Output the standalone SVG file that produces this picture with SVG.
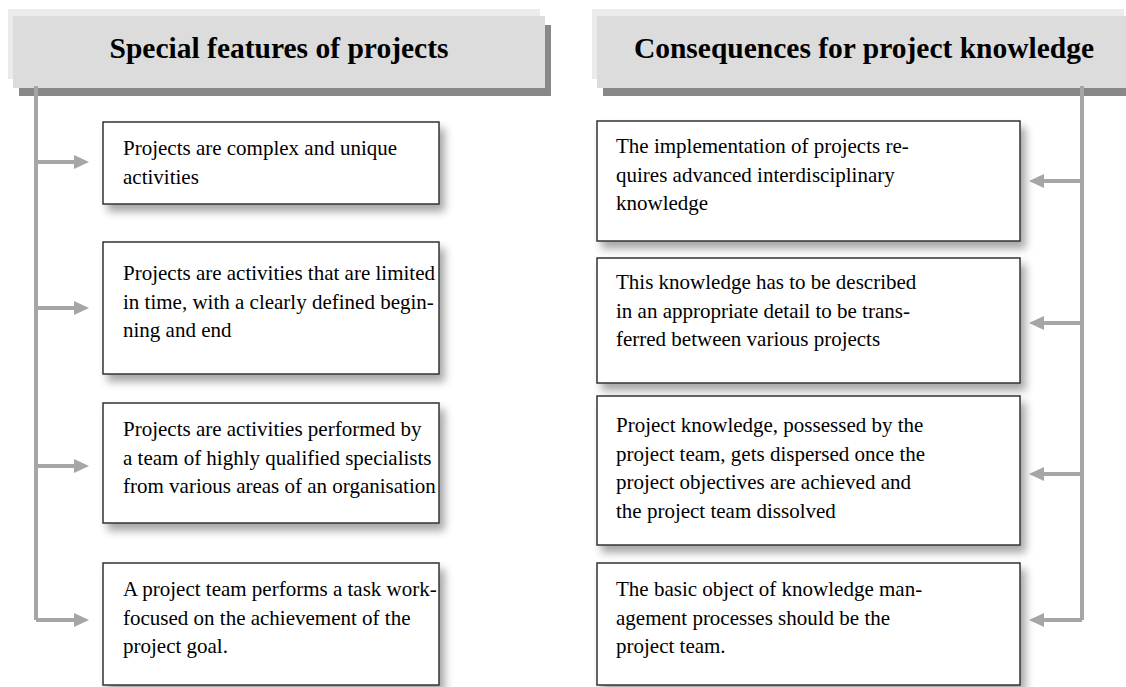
<svg xmlns="http://www.w3.org/2000/svg" width="1126" height="687" viewBox="0 0 1126 687">
<style>
.hb{fill:#ebebeb}
.hm{fill:#dcdcdc}
.hs{fill:#888888}
.ht{font-family:"Liberation Serif",serif;font-weight:bold;font-size:29.5px;fill:#000;text-anchor:middle}
.box{fill:#fff;stroke:#333;stroke-width:1.5;filter:url(#sh)}
.t{font-family:"Liberation Serif",serif;font-size:21px;fill:#000}
.c{stroke:#a6a6a6;stroke-width:4;fill:none}
.ah{fill:#a6a6a6}
</style>
<defs>
<filter id="sh" x="-10%" y="-10%" width="130%" height="140%">
<feDropShadow dx="5" dy="7" stdDeviation="4" flood-color="#000" flood-opacity="0.35"/>
</filter>
</defs>
<rect width="1126" height="687" fill="#fff"/>
<g id="header-left">
<rect class="hb" x="8" y="9" width="532" height="70"/>
<rect class="hs" x="19" y="25" width="532" height="71"/>
<rect class="hm" x="13" y="16" width="532" height="72"/>
<text class="ht" x="279" y="58">Special features of projects</text>
</g>
<g id="header-right">
<rect class="hb" x="592" y="9" width="532" height="70"/>
<rect class="hs" x="603" y="25" width="532" height="71"/>
<rect class="hm" x="597" y="16" width="532" height="72"/>
<text class="ht" x="864" y="58">Consequences for project knowledge</text>
</g>
<g id="connectors">
<path class="c" d="M36 86 V620 M36 162 H75 M36 308 H75 M36 466 H75 M36 620 H75"/>
<polygon class="ah" points="74,155 89,162 74,169"/>
<polygon class="ah" points="74,301 89,308 74,315"/>
<polygon class="ah" points="74,459 89,466 74,473"/>
<polygon class="ah" points="74,613 89,620 74,627"/>
<path class="c" d="M1082 86 V620 M1082 181 H1043 M1082 323 H1043 M1082 474 H1043 M1082 620 H1043"/>
<polygon class="ah" points="1044,174 1029,181 1044,188"/>
<polygon class="ah" points="1044,316 1029,323 1044,330"/>
<polygon class="ah" points="1044,467 1029,474 1044,481"/>
<polygon class="ah" points="1044,613 1029,620 1044,627"/>
</g>
<g id="left-1">
<rect class="box" x="103" y="122" width="336" height="82"/>
<text class="t" x="123" y="155"><tspan x="123">Projects are complex and unique</tspan><tspan x="123" dy="28.5">activities</tspan></text>
</g>
<g id="left-2">
<rect class="box" x="103" y="242" width="336" height="132"/>
<text class="t" x="123" y="280"><tspan x="123">Projects are activities that are limited</tspan><tspan x="123" dy="28.5">in time, with a clearly defined begin-</tspan><tspan x="123" dy="28.5">ning and end</tspan></text>
</g>
<g id="left-3">
<rect class="box" x="103" y="403" width="336" height="120"/>
<text class="t" x="123" y="436"><tspan x="123">Projects are activities performed by</tspan><tspan x="123" dy="28.5">a team of highly qualified specialists</tspan><tspan x="123" dy="28.5">from various areas of an organisation</tspan></text>
</g>
<g id="left-4">
<rect class="box" x="103" y="563" width="336" height="122"/>
<text class="t" x="123" y="596"><tspan x="123">A project team performs a task work-</tspan><tspan x="123" dy="28.5">focused on the achievement of the</tspan><tspan x="123" dy="28.5">project goal.</tspan></text>
</g>
<g id="right-1">
<rect class="box" x="597" y="121" width="423" height="120"/>
<text class="t" x="616" y="153"><tspan x="616">The implementation of projects re-</tspan><tspan x="616" dy="28.5">quires advanced interdisciplinary</tspan><tspan x="616" dy="28.5">knowledge</tspan></text>
</g>
<g id="right-2">
<rect class="box" x="597" y="258" width="423" height="125"/>
<text class="t" x="616" y="289"><tspan x="616">This knowledge has to be described</tspan><tspan x="616" dy="28.5">in an appropriate detail to be trans-</tspan><tspan x="616" dy="28.5">ferred between various projects</tspan></text>
</g>
<g id="right-3">
<rect class="box" x="597" y="396" width="423" height="149"/>
<text class="t" x="616" y="432"><tspan x="616">Project knowledge, possessed by the</tspan><tspan x="616" dy="28.5">project team, gets dispersed once the</tspan><tspan x="616" dy="28.5">project objectives are achieved and</tspan><tspan x="616" dy="28.5">the project team dissolved</tspan></text>
</g>
<g id="right-4">
<rect class="box" x="597" y="563" width="423" height="122"/>
<text class="t" x="616" y="596"><tspan x="616">The basic object of knowledge man-</tspan><tspan x="616" dy="28.5">agement processes should be the</tspan><tspan x="616" dy="28.5">project team.</tspan></text>
</g>
</svg>
